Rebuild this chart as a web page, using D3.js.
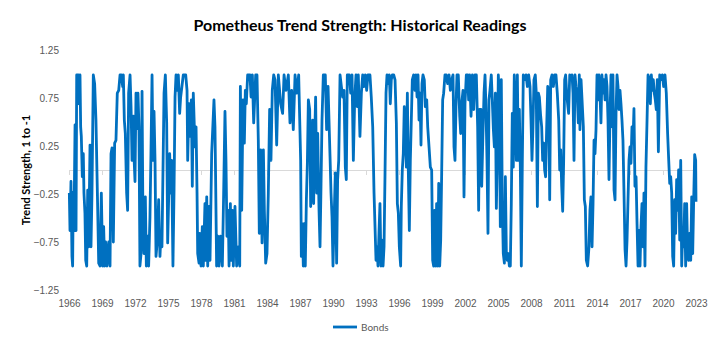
<!DOCTYPE html>
<html>
<head>
<meta charset="utf-8">
<title>Pometheus Trend Strength: Historical Readings</title>
<script src="https://d3js.org/d3.v7.min.js"></script>
<style>
  body { margin: 0; background: #fff; font-family: "Liberation Sans Narrow", Lato, sans-serif; }
  .ticks text { fill: #595959; font-size: 10px; }
  .zero path, .zero line { stroke: #d9d9d9; }
  .line { fill: none; stroke: #0070c0; stroke-width: 2.8; stroke-linejoin: round; }
</style>
</head>
<body>
<svg width="721" height="352"></svg>
<script>
const yearTicks = [1966, 1969, 1972, 1975, 1978, 1981, 1984, 1987, 1990, 1993,
  1996, 1999, 2002, 2005, 2008, 2011, 2014, 2017, 2020, 2023];
const valueTicks = [-1.25, -0.75, -0.25, 0.25, 0.75, 1.25];

// reading dates (decimal years) and bond trend strength
const dates = [
  1966.03,1966.09,1966.18,1966.27,1966.33,1966.39,1966.45,1966.55,1966.64,1966.70,
  1966.85,1966.91,1967.00,1967.06,1967.12,1967.21,1967.30,1967.36,1967.45,1967.52,
  1967.61,1967.70,1967.79,1967.91,1968.00,1968.09,1968.21,1968.33,1968.45,1968.58,
  1968.70,1968.82,1968.94,1969.06,1969.15,1969.24,1969.33,1969.45,1969.61,1969.73,
  1969.82,1969.91,1970.03,1970.15,1970.27,1970.39,1970.52,1970.64,1970.76,1970.88,
  1970.94,1971.03,1971.12,1971.24,1971.33,1971.42,1971.55,1971.64,1971.73,1971.85,
  1971.91,1972.00,1972.09,1972.18,1972.27,1972.36,1972.45,1972.55,1972.64,1972.73,
  1972.82,1972.94,1973.03,1973.15,1973.24,1973.36,1973.45,1973.55,1973.64,1973.73,
  1973.82,1973.91,1974.03,1974.15,1974.27,1974.36,1974.45,1974.64,1974.76,1974.88,
  1974.97,
  1975.15,1975.27,1975.33,1975.45,1975.55,1975.64,1975.73,1975.82,1975.94,1976.06,
  1976.15,1976.39,1976.61,1976.73,1976.79,1976.91,1977.03,1977.12,1977.21,1977.30,
  1977.45,1977.55,1977.64,1977.70,1977.82,1977.88,1978.00,1978.12,1978.21,1978.36,
  1978.42,1978.52,1978.61,1978.73,1978.82,1978.97,1979.18,1979.27,1979.33,1979.42,
  1979.52,1979.64,1979.76,1979.94,1980.06,1980.18,1980.27,1980.36,1980.48,1980.55,
  1980.67,1980.76,1980.85,1980.94,1981.09,1981.24,1981.39,1981.52,1981.58,1981.70,
  1981.82,1981.94,1982.03,1982.12,1982.24,1982.45,1982.55,1982.67,1982.79,1982.97,
  1983.09,1983.21,1983.30,1983.42,1983.55,1983.67,1983.76,1983.88,1984.00,1984.12,
  1984.24,1984.36,1984.48,1984.61,
  1984.73,1984.88,1985.03,1985.24,1985.42,1985.55,1985.73,1985.94,1986.09,1986.24,
  1986.39,1986.55,1986.70,1986.88,1987.06,1987.12,1987.21,1987.30,1987.39,1987.48,
  1987.58,1987.67,1987.76,1987.88,1987.97,1988.06,1988.15,1988.24,1988.33,1988.42,
  1988.52,1988.61,1988.73,1988.82,1988.91,1989.00,1989.12,1989.30,1989.42,1989.55,
  1989.73,1989.82,1989.91,1990.00,1990.09,1990.21,1990.33,1990.42,1990.52,1990.64,
  1990.76,1990.88,1991.00,1991.12,1991.21,1991.30,1991.48,1991.61,1991.73,1991.85,
  1991.97,1992.09,1992.21,1992.30,1992.45,1992.58,1992.70,1992.82,1992.94,1993.06,
  1993.18,1993.36,1993.48,1993.61,1993.73,
  1993.91,1994.00,1994.09,1994.18,1994.27,1994.36,1994.45,1994.55,1994.64,1994.73,
  1994.82,1994.91,1995.03,1995.12,1995.21,1995.30,1995.39,1995.52,1995.64,1995.76,
  1995.85,1995.94,1996.03,1996.15,1996.21,1996.30,1996.39,1996.48,1996.58,1996.67,
  1996.76,1996.85,1996.94,1997.03,1997.12,1997.21,1997.33,1997.45,1997.55,1997.64,
  1997.73,1997.82,1997.91,1998.00,1998.09,1998.18,1998.30,1998.39,1998.52,1998.61,
  1998.73,1998.85,1998.97,1999.06,1999.15,1999.24,1999.33,1999.42,1999.52,1999.61,
  1999.70,1999.79,1999.88,1999.97,2000.06,2000.18,2000.30,2000.42,2000.55,2000.67,
  2000.79,2000.91,2001.00,2001.09,2001.18,2001.27,2001.39,2001.52,2001.61,2001.70,
  2001.82,2001.91,2002.00,2002.12,2002.24,2002.33,2002.42,2002.55,2002.67,2002.79,
  2002.91,2003.03,2003.15,2003.24,2003.33,2003.45,2003.52,
  2003.61,2003.73,2003.82,2003.91,2004.00,2004.09,2004.18,2004.27,2004.39,2004.48,
  2004.58,2004.67,2004.76,2004.85,2004.94,2005.03,2005.12,2005.21,2005.30,2005.39,
  2005.48,2005.58,2005.67,2005.76,2005.85,2005.94,2006.03,2006.12,2006.21,2006.30,
  2006.39,2006.48,2006.58,2006.67,2006.76,2006.85,2006.94,2007.03,2007.12,2007.21,
  2007.30,2007.42,2007.55,2007.67,2007.79,2007.91,2008.00,2008.09,2008.18,2008.27,
  2008.39,2008.48,2008.58,2008.67,2008.76,2008.88,2008.97,2009.06,2009.15,2009.24,
  2009.33,2009.42,2009.52,2009.61,2009.70,2009.79,2009.91,2010.03,2010.15,2010.27,
  2010.39,2010.52,2010.61,2010.70,2010.79,2010.88,2010.97,2011.06,2011.15,2011.24,
  2011.33,2011.42,2011.52,2011.64,2011.73,2011.82,2011.91,2012.00,2012.09,2012.21,
  2012.30,2012.39,2012.45,2012.55,2012.64,2012.76,2012.85,2012.94,2013.03,
  2013.15,2013.27,2013.36,2013.45,2013.55,2013.64,2013.73,2013.82,2013.91,2014.00,
  2014.09,2014.18,2014.27,2014.36,2014.45,2014.55,2014.64,2014.73,2014.82,2014.91,
  2015.00,2015.09,2015.18,2015.27,2015.36,2015.45,2015.55,2015.64,2015.73,2015.82,
  2015.91,2016.00,2016.09,2016.18,2016.27,2016.36,2016.45,2016.55,2016.64,2016.73,
  2016.82,2016.91,2017.00,2017.09,2017.18,2017.27,2017.36,2017.45,2017.55,2017.64,
  2017.73,2017.82,2017.91,2018.00,2018.09,2018.18,2018.27,2018.36,2018.45,2018.55,
  2018.64,2018.76,2018.85,2018.94,2019.03,2019.12,2019.21,2019.30,2019.39,2019.48,
  2019.58,2019.70,2019.82,2019.94,2020.06,2020.18,2020.30,2020.42,2020.52,2020.61,
  2020.70,2020.79,2020.88,2020.97,2021.06,2021.15,2021.24,2021.33,2021.42,2021.52,
  2021.61,2021.70,2021.79,2021.88,2021.97,2022.06,2022.15,2022.24,2022.33,2022.42,
  2022.52,2022.61,2022.70,2022.79,2022.88,2022.97,2023.00
];

const bonds = [
  -0.24,-0.63,-0.12,-0.90,-1.0,-0.23,-0.63,0.47,-0.63,0.99,
  0.99,0.69,0.99,0.45,0.35,-0.07,0.17,-0.24,-0.45,-0.94,
  -1.0,-0.21,-0.80,0.26,-0.80,-0.24,0.99,0.90,0.52,-0.24,
  -0.97,-1.0,-0.24,-1.0,-0.59,-1.0,-0.75,-1.0,-0.75,-1.0,
  0.17,0.23,-0.75,0.28,0.31,0.80,0.83,0.99,0.99,0.87,
  0.99,0.52,0.38,-0.24,-0.42,0.80,0.99,0.66,0.10,0.56,
  0.14,-0.12,0.80,0.43,0.80,0.45,-1.0,-0.87,0.82,-0.66,
  -0.87,-0.28,-1.0,-0.69,-1.0,-0.49,0.17,0.99,0.10,0.61,
  0.10,-0.90,-0.73,-0.31,-0.90,-0.66,-0.80,0.80,0.99,0.49,
  -0.76,
  0.17,-0.24,0.10,-1.0,-0.21,0.76,0.99,0.83,0.99,0.59,
  0.76,0.99,0.99,0.83,0.10,0.69,0.35,0.73,-0.17,0.80,
  0.24,0.45,-0.24,-0.87,-0.97,-0.66,-1.0,-0.59,-1.0,-0.35,
  -0.94,-0.28,-1.0,-0.38,-0.94,0.17,0.73,0.45,-0.10,-1.0,
  -0.69,-1.0,-0.69,-1.0,-0.24,0.61,0.10,-0.69,-0.42,-1.0,
  -0.35,-0.94,-0.42,-1.0,-0.38,-1.0,-0.80,-1.0,0.87,-0.42,
  0.73,0.28,0.83,0.69,0.99,0.99,0.76,0.99,0.49,0.99,
  0.99,0.31,-0.66,0.21,-0.76,0.21,-0.42,-0.97,-0.87,-0.24,
  0.63,0.10,0.83,0.99,
  0.94,0.26,0.99,0.69,0.59,0.99,0.83,0.99,0.49,0.83,
  0.42,0.99,0.80,0.99,0.10,-0.90,-0.56,-1.0,-0.56,-1.0,
  -0.31,0.07,0.73,0.63,-0.38,-0.03,0.52,-0.35,0.31,0.76,
  -0.24,0.38,-0.42,-0.80,-0.17,0.52,0.99,0.99,0.42,0.87,
  0.14,-0.24,-0.49,-1.0,-0.56,-0.03,-0.97,-0.10,0.10,0.99,
  0.87,0.76,0.83,0.03,-0.10,0.99,0.99,0.80,0.99,0.10,
  0.73,0.99,0.66,0.99,0.35,0.80,0.99,0.87,0.99,0.83,
  0.99,0.99,0.76,0.45,-0.24,
  -0.94,-0.80,-1.0,-0.66,-0.35,-1.0,-0.73,-1.0,-0.80,-0.03,
  0.80,0.99,0.90,0.99,0.69,0.94,0.99,0.99,0.94,0.49,
  -0.35,-0.45,-0.80,-1.0,-0.38,0.0,0.17,0.66,0.38,0.03,
  0.80,-0.03,-0.63,0.10,0.52,0.94,0.99,0.83,0.99,0.76,
  0.99,0.52,0.80,0.26,0.90,0.99,0.94,0.66,0.73,0.45,
  0.24,0.03,0.0,-0.94,-1.0,-0.42,-1.0,-0.35,-1.0,-0.14,
  -1.0,-0.73,-0.03,0.73,0.80,0.99,0.99,0.90,0.99,0.83,
  0.94,0.99,0.24,0.10,0.66,0.99,0.99,0.56,0.38,0.69,
  0.83,-0.28,0.69,0.99,0.99,0.73,0.99,0.56,0.99,0.63,
  0.99,0.99,0.45,-0.42,0.63,0.63,-0.17,
  0.28,0.80,0.99,0.63,0.10,-0.66,0.73,0.83,0.99,0.73,
  0.42,0.24,0.80,-0.40,0.17,0.99,0.73,-0.59,0.94,-0.35,
  -0.87,-0.97,-0.07,-0.87,-0.94,-0.87,-1.0,-1.0,-0.35,0.59,
  0.03,0.99,0.59,0.10,0.99,0.10,0.63,0.03,-1.0,0.07,
  0.99,0.94,0.99,0.87,0.99,0.87,0.52,0.10,0.45,0.94,
  0.99,0.80,-0.38,0.80,0.76,0.56,0.45,0.10,0.28,0.0,
  -0.07,0.42,0.87,0.83,-0.31,0.94,0.99,0.87,0.99,0.99,
  0.80,0.52,0.0,0.21,-0.17,-0.43,0.10,0.94,0.99,0.80,
  0.69,0.59,0.99,0.94,0.99,0.80,0.10,0.99,0.87,0.76,
  0.49,0.99,0.42,0.94,0.73,0.45,-0.31,-0.38,-0.94,
  -1.0,-0.80,-0.42,-0.28,-0.80,-0.35,0.31,0.17,0.42,0.99,
  0.73,0.99,0.80,0.49,0.99,0.80,0.94,0.73,0.99,0.87,
  0.52,-0.10,0.56,0.99,0.45,0.99,-0.21,-0.31,0.59,0.99,
  0.87,0.63,0.83,0.69,0.52,0.31,-0.21,-0.83,-1.0,-0.73,
  -0.31,0.10,0.24,0.07,0.45,0.28,0.64,-0.17,-0.07,-0.56,
  -1.0,-0.63,-1.0,-0.59,-0.35,-0.80,-0.24,-1.0,0.03,0.52,
  0.99,0.94,0.69,0.99,0.83,0.94,0.80,0.73,0.63,0.94,
  0.19,0.99,0.94,0.99,0.87,0.99,0.80,0.38,0.10,-0.14,
  -0.07,-0.24,-0.90,-1.0,-0.31,-0.66,-0.10,-0.42,0.0,-0.73,
  0.10,-1.0,-0.66,-0.80,-0.35,-1.0,-0.35,-0.87,-0.94,-0.66,
  -0.94,-0.28,-0.87,-0.31,0.16,0.10,-0.33
];

const data = d3.zip(dates, bonds);

const svg = d3.select("svg"),
      margin = {top: 50, right: 25, bottom: 62, left: 69},
      width = +svg.attr("width") - margin.left - margin.right,
      height = +svg.attr("height") - margin.top - margin.bottom;

const g = svg.append("g").attr("transform", `translate(${margin.left},${margin.top})`);

const x = d3.scaleLinear().domain([1966, 2023]).range([0, width]);
const y = d3.scaleLinear().domain([-1.25, 1.25]).range([height, 0]);

svg.append("text")
  .attr("x", 360)
  .attr("y", 31)
  .attr("text-anchor", "middle")
  .style("font-size", "16px")
  .style("font-weight", "bold")
  .text("Pometheus Trend Strength: Historical Readings");

// zero line with tick marks
g.append("g")
  .attr("class", "zero")
  .attr("transform", `translate(0,${y(0)})`)
  .call(d3.axisBottom(x).tickValues(yearTicks).tickSize(5).tickFormat(""));

// year labels along the bottom
g.append("g")
  .attr("class", "ticks")
  .attr("transform", `translate(0,${height})`)
  .call(d3.axisBottom(x).tickValues(yearTicks).tickSize(0).tickPadding(10).tickFormat(d3.format("d")))
  .call(a => a.select(".domain").remove());

g.append("g")
  .attr("class", "ticks")
  .call(d3.axisLeft(y).tickValues(valueTicks).tickSize(0).tickPadding(10).tickFormat(d3.format(".2f")))
  .call(a => a.select(".domain").remove());

g.append("text")
  .attr("transform", `translate(-39,${height / 2}) rotate(-90)`)
  .attr("text-anchor", "middle")
  .style("font-size", "11px")
  .style("font-weight", "bold")
  .text("Trend Strength, 1 to -1");

const line = d3.line()
  .x(d => x(d[0]))
  .y(d => y(d[1]));

g.append("path")
  .datum(data)
  .attr("class", "line")
  .attr("d", line);

// legend
const legend = svg.append("g").attr("transform", "translate(333,327)");
legend.append("line")
  .attr("x1", 0).attr("x2", 24)
  .attr("stroke", "#0070c0").attr("stroke-width", 2.8);
legend.append("text")
  .attr("x", 28).attr("dy", "0.35em")
  .style("font-size", "10px")
  .style("fill", "#595959")
  .text("Bonds");
</script>
</body>
</html>
